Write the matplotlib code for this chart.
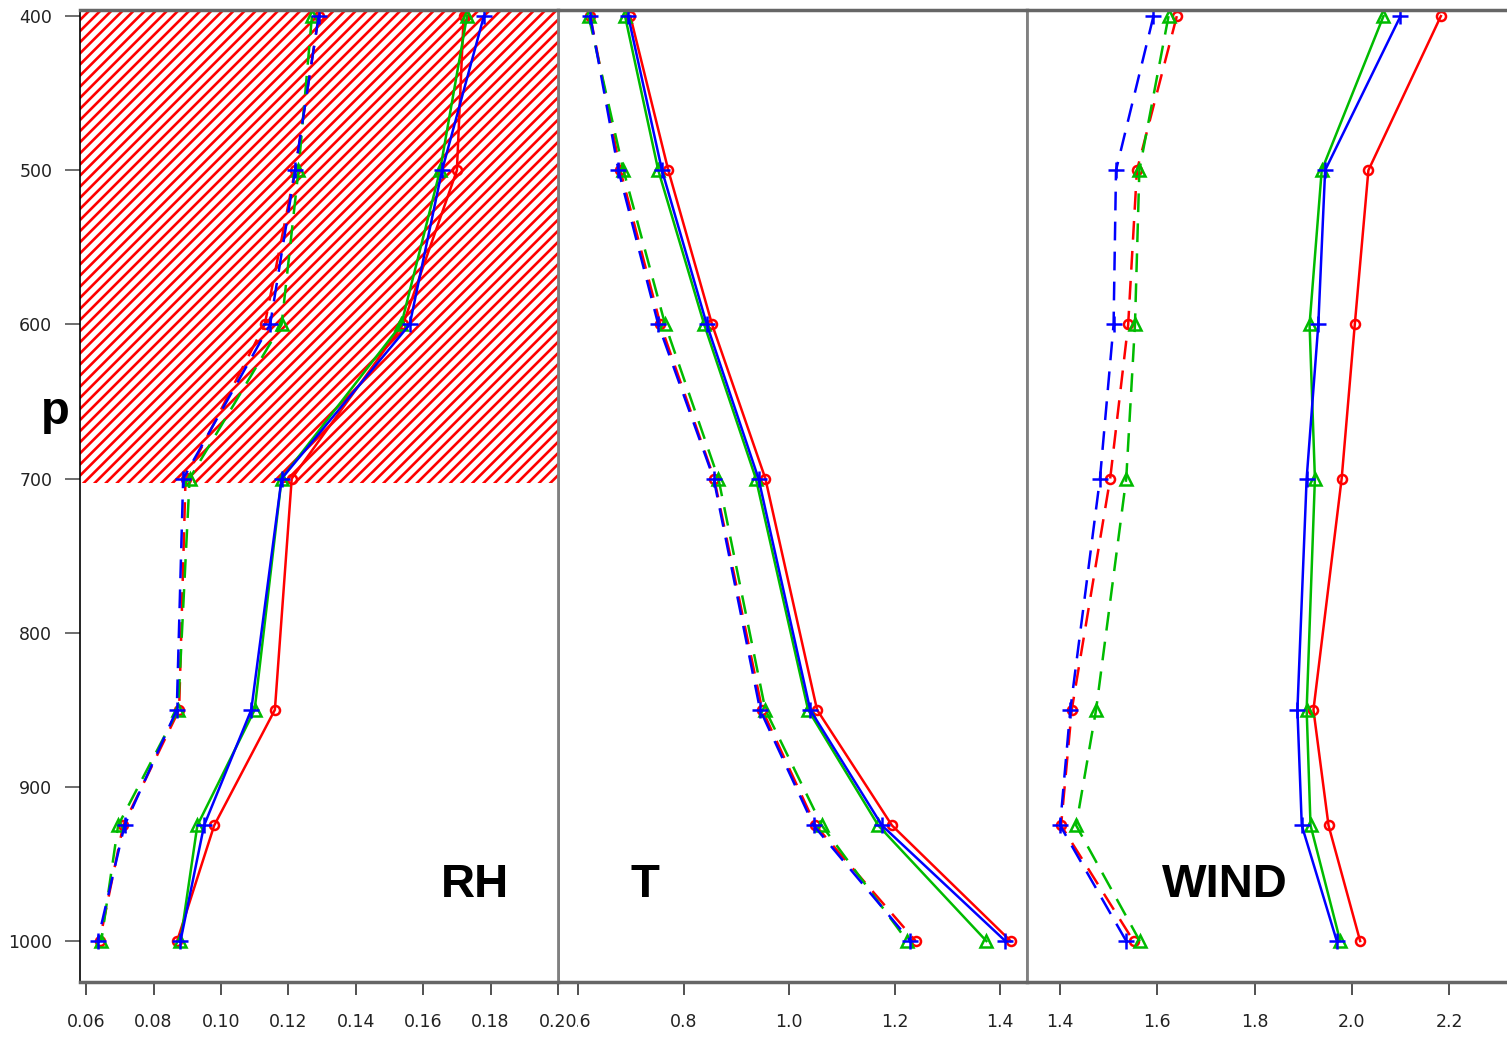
import numpy as np
import matplotlib.pyplot as plt

levels = [400, 500, 600, 700, 850, 925, 1000]

# RH
rh_solid_red = [0.172, 0.170, 0.154, 0.121, 0.116, 0.098, 0.087]
rh_solid_green = [0.173, 0.165, 0.1535, 0.118, 0.110, 0.093, 0.088]
rh_solid_blue = [0.178, 0.1656, 0.156, 0.118, 0.109, 0.095, 0.088]
rh_dash_red = [0.129, 0.122, 0.113, 0.0895, 0.0876, 0.071, 0.064]
rh_dash_green = [0.127, 0.123, 0.118, 0.0907, 0.0873, 0.0695, 0.0645]
rh_dash_blue = [0.129, 0.122, 0.1146, 0.0888, 0.0869, 0.0714, 0.0634]

# T
t_solid_red = [0.699, 0.771, 0.854, 0.955, 1.053, 1.195, 1.420]
t_solid_green = [0.689, 0.752, 0.839, 0.937, 1.036, 1.169, 1.374]
t_solid_blue = [0.695, 0.759, 0.844, 0.942, 1.040, 1.176, 1.410]
t_dash_red = [0.623, 0.680, 0.756, 0.858, 0.949, 1.050, 1.240]
t_dash_green = [0.620, 0.686, 0.765, 0.866, 0.955, 1.062, 1.224]
t_dash_blue = [0.623, 0.6765, 0.752, 0.857, 0.945, 1.0465, 1.230]

# WIND
wind_solid_red = [2.183, 2.034, 2.006, 1.979, 1.921, 1.952, 2.017]
wind_solid_green = [2.065, 1.938, 1.913, 1.924, 1.907, 1.915, 1.976]
wind_solid_blue = [2.100, 1.945, 1.931, 1.907, 1.888, 1.897, 1.969]
wind_dash_red = [1.640, 1.558, 1.540, 1.503, 1.424, 1.402, 1.551]
wind_dash_green = [1.623, 1.563, 1.554, 1.536, 1.474, 1.433, 1.564]
wind_dash_blue = [1.592, 1.515, 1.510, 1.482, 1.421, 1.400, 1.536]

rh_ticks = [0.06, 0.08, 0.10, 0.12, 0.14, 0.16, 0.18, 0.20]
t_ticks = [0.6, 0.8, 1.0, 1.2, 1.4]
wind_ticks = [1.4, 1.6, 1.8, 2.0, 2.2]
p_ticks = [400, 500, 600, 700, 800, 900, 1000]

RED = '#ff0000'
GREEN = '#00bb00'
BLUE = '#0000ff'

plt.rcParams['hatch.linewidth'] = 1.9

fig = plt.figure(figsize=(15.07, 10.38), dpi=100)
bottom, height = 0.0539, 0.9365
ax1 = fig.add_axes([0.0531, bottom, 0.3172, height])
ax2 = fig.add_axes([0.3703, bottom, 0.3112, height])
ax3 = fig.add_axes([0.6815, bottom, 0.3185, height])
ax1.set_zorder(3)


def draw_panel(ax, solid, dashed):
    styles = [(RED, 'o', 6.5), (GREEN, '^', 8), (BLUE, '+', 12)]
    for vals, (c, m, ms) in zip(dashed, styles):
        ax.plot(vals, levels, color=c, lw=1.8, dashes=(7.5, 4.5),
                marker=m, ms=ms, mfc='none', mec=c, mew=1.8)
    for vals, (c, m, ms) in zip(solid, styles):
        ax.plot(vals, levels, color=c, lw=1.8,
                marker=m, ms=ms, mfc='none', mec=c, mew=1.8)


draw_panel(ax1, [rh_solid_red, rh_solid_green, rh_solid_blue],
           [rh_dash_red, rh_dash_green, rh_dash_blue])
draw_panel(ax2, [t_solid_red, t_solid_green, t_solid_blue],
           [t_dash_red, t_dash_green, t_dash_blue])
draw_panel(ax3, [wind_solid_red, wind_solid_green, wind_solid_blue],
           [wind_dash_red, wind_dash_green, wind_dash_blue])

# hatched region above 700 hPa
ax1.axhspan(396, 703, facecolor='white', edgecolor=RED, hatch='///', lw=0, zorder=0)

ax1.set_xlim(0.0582, 0.20)
ax2.set_xlim(0.562, 1.451)
ax3.set_xlim(1.332, 2.319)
ax1.set_xticks(rh_ticks)
ax1.set_xticklabels(['%.2f' % v for v in rh_ticks])
ax2.set_xticks(t_ticks)
ax2.set_xticklabels(['%.1f' % v for v in t_ticks])
ax3.set_xticks(wind_ticks)
ax3.set_xticklabels(['%.1f' % v for v in wind_ticks])

for ax in (ax1, ax2, ax3):
    ax.set_ylim(1026.6, 396)
    ax.tick_params(axis='x', direction='out', length=9, width=1.2, pad=13,
                   labelsize=12.5, colors='#333333', labelcolor='#222222')
    for s in ('top', 'bottom'):
        ax.spines[s].set_color('#666666')
        ax.spines[s].set_linewidth(2.5)
    ax.spines['left'].set_color('#808080')
    ax.spines['left'].set_linewidth(2)
    ax.spines['right'].set_color('#808080')
    ax.spines['right'].set_linewidth(2)

ax1.set_yticks(p_ticks)
ax1.tick_params(axis='y', direction='out', length=11, width=1.2, pad=9,
                labelsize=12.5, colors='#555555', labelcolor='#222222')
ax1.spines['left'].set_color('black')
ax1.spines['left'].set_linewidth(1.2)
for ax in (ax2, ax3):
    ax.set_yticks([])
ax3.spines['right'].set_visible(False)

# the 0.20 label sits on top of the 0.6 label, as in the source image
ax1.get_xticklabels()[-1].set_bbox(dict(facecolor='white', edgecolor='none', pad=0))

lab = dict(fontsize=34, fontweight='bold', family=['Liberation Sans', 'DejaVu Sans'],
           ha='center', va='center')
ax1.text(0.826, 0.10, 'RH', transform=ax1.transAxes, **lab)
ax2.text(0.186, 0.10, 'T', transform=ax2.transAxes, **lab)
ax3.text(0.4125, 0.10, 'WIND', transform=ax3.transAxes, **lab)
fig.text(0.0365, 0.603, 'p', **lab)

fig.savefig('out.png', dpi=100)
